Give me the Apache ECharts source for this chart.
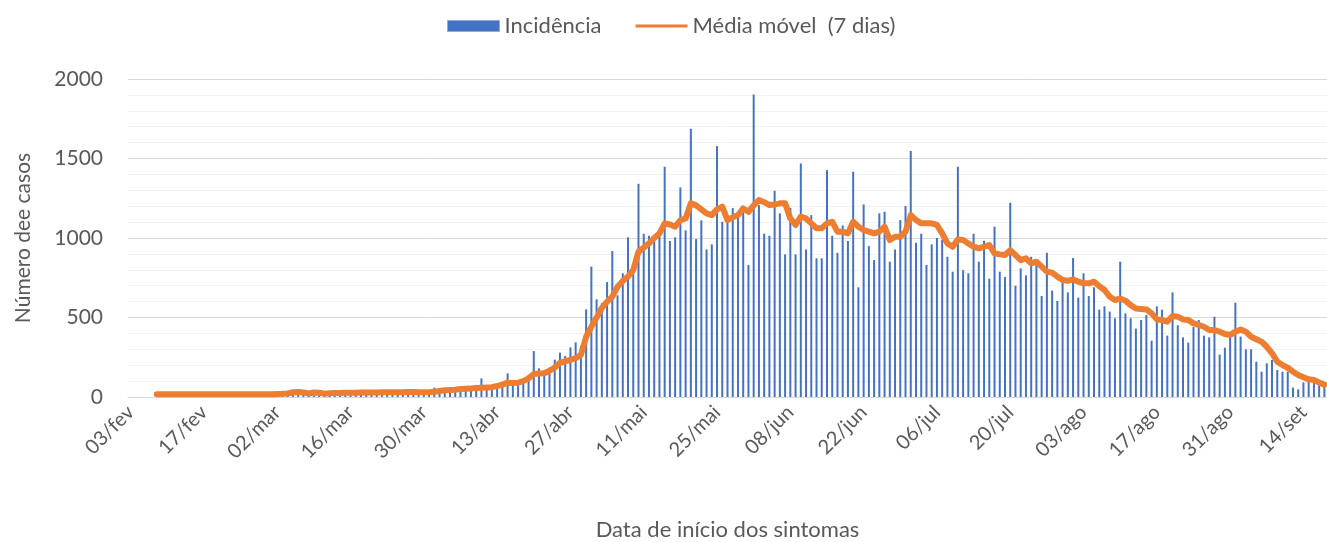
<!DOCTYPE html>
<html>
<head>
	<meta charset="utf-8">
	<title>Incidência diária</title>
	<script src="https://cdn.jsdelivr.net/npm/echarts@6/dist/echarts.min.js"></script>
	<style>
	html, body {
		margin: 0;
		height: 100%;
		background: #ffffff;
	}
	#main {
		width: 1327px;
		height: 542px;
	}
	</style>
</head>
<body>
<div id="main"></div>
<script>
	// eixo x: um dia por categoria, de 03/fev a 18/set
	var monthNames = ['fev', 'mar', 'abr', 'mai', 'jun', 'jul', 'ago', 'set'];
	var monthFirstDay = [3, 1, 1, 1, 1, 1, 1, 1];
	var monthLastDay = [29, 31, 30, 31, 30, 31, 31, 18];

	// casos por dia
	var incidencia = [
		0, 0, 0, 0, 0, 2, 0, 1, 0, 3, 0, 2, 1, 0, 4, 2, 1, 3, 0, 2,
		5, 3, 2, 6, 4, 3, 8, 5, 6, 9, 12, 18, 22, 15, 10, 14, 20, 12, 16, 18,
		20, 15, 22, 25, 18, 24, 28, 22, 26, 30, 24, 28, 32, 27, 30, 25, 30, 40, 59, 45,
		50, 55, 48, 60, 52, 58, 62, 117, 70, 75, 65, 80, 149, 100, 90, 110, 130, 289, 180, 170,
		185, 235, 279, 258, 312, 344, 321, 551, 820, 614, 589, 723, 918, 640, 778, 1004, 790, 1341, 1027, 1014,
		990, 1050, 1448, 981, 1004, 1318, 1048, 1687, 993, 1111, 928, 960, 1578, 1102, 1113, 1188, 1155, 1200, 830, 1903,
		1207, 1027, 1014, 1297, 1155, 897, 1190, 897, 1469, 928, 1144, 872, 872, 1427, 1014, 907, 1079, 981, 1417, 690,
		1211, 949, 861, 1155, 1165, 851, 928, 1113, 1201, 1547, 970, 1027, 830, 960, 1000, 990, 882, 788, 1448, 798,
		778, 1027, 851, 983, 744, 1071, 788, 755, 1222, 700, 809, 765, 882, 830, 635, 907, 669, 604, 723, 658,
		874, 625, 778, 635, 690, 549, 570, 537, 495, 851, 526, 495, 430, 484, 516, 354, 570, 549, 386, 658,
		451, 375, 342, 440, 484, 386, 375, 505, 266, 310, 400, 593, 380, 300, 300, 222, 159, 212, 233, 170,
		159, 159, 59, 48, 92, 96, 107, 75, 70
	];

	// média móvel de 7 dias
	var mediaMovel = [
		null, null, null, null, null, 17, 17, 17, 17, 17, 17, 17, 17, 17, 17, 17, 17, 17, 17, 17,
		17, 17, 17, 17, 17, 17, 18, 18, 19, 20, 22, 30, 31, 29, 22, 28, 27, 21, 24, 25,
		25, 26, 26, 27, 28, 29, 29, 29, 30, 30, 30, 30, 30, 31, 31, 30, 30, 30, 33, 38,
		42, 44, 46, 50, 52, 54, 56, 58, 60, 62, 69, 78, 90, 88, 90, 100, 117, 145, 148, 149,
		165, 185, 215, 225, 233, 245, 264, 379, 442, 500, 560, 600, 631, 694, 730, 757, 799, 914, 940, 966,
		1000, 1029, 1092, 1085, 1071, 1113, 1123, 1218, 1205, 1180, 1155, 1144, 1180, 1197, 1113, 1130, 1144, 1186, 1165, 1205,
		1239, 1225, 1207, 1210, 1218, 1218, 1123, 1082, 1134, 1123, 1092, 1061, 1061, 1092, 1102, 1040, 1040, 1029, 1102, 1071,
		1050, 1040, 1029, 1040, 1071, 987, 1008, 1008, 1040, 1144, 1113, 1092, 1092, 1092, 1082, 1029, 966, 945, 990, 987,
		966, 945, 935, 945, 956, 903, 897, 893, 924, 893, 861, 872, 840, 851, 820, 788, 782, 757, 736, 731,
		740, 725, 715, 715, 725, 698, 673, 631, 610, 620, 606, 578, 557, 554, 551, 526, 488, 484, 474, 509,
		505, 488, 484, 463, 453, 442, 421, 421, 411, 396, 390, 411, 425, 411, 379, 363, 348, 316, 275, 222,
		201, 184, 159, 138, 124, 111, 107, 90, 78
	];

	var datas = [];
	for (var m = 0; m < monthNames.length; m++) {
		for (var d = monthFirstDay[m]; d <= monthLastDay[m]; d++) {
			datas.push((d < 10 ? '0' + d : '' + d) + '/' + monthNames[m]);
		}
	}

	var cinza = '#595959';
	var fonte = 'Lato, "Open Sans", sans-serif';

	var myChart = echarts.init(document.getElementById('main'));

	var option = {
		animation: false,
		textStyle: {
			fontFamily: fonte,
			color: cinza
		},
		legend: {
			top: 10,
			left: 442,
			itemWidth: 52,
			itemHeight: 11,
			itemGap: 34,
			textStyle: {
				fontSize: 22,
				color: cinza,
				fontFamily: fonte
			},
			data: [
				{name: 'Incidência', icon: 'rect', itemStyle: {color: '#4472C4', borderColor: '#8FAADC', borderWidth: 1}},
				{name: 'Média móvel  (7 dias)', icon: 'path://M0,0 L54,0 L54,3 L0,3 Z', itemStyle: {color: '#ED7D31'}}
			]
		},
		grid: {
			left: 128,
			right: 0,
			top: 79,
			bottom: 145,
			containLabel: false,
			outerBoundsMode: 'none'
		},
		xAxis: {
			type: 'category',
			data: datas,
			boundaryGap: true,
			name: 'Data de início dos sintomas',
			nameLocation: 'middle',
			nameGap: 122,
			nameTextStyle: {
				fontSize: 22,
				color: cinza
			},
			axisLine: {
				lineStyle: {color: '#d9d9d9', width: 1}
			},
			axisTick: {
				interval: 13,
				length: 6,
				lineStyle: {color: '#d9d9d9'}
			},
			axisLabel: {
				interval: 13,
				rotate: 45,
				margin: 12,
				fontSize: 20,
				color: cinza
			}
		},
		yAxis: {
			type: 'value',
			min: 0,
			max: 2000,
			interval: 500,
			name: 'Número dee casos',
			nameLocation: 'middle',
			nameGap: 94,
			nameTextStyle: {
				fontSize: 21,
				color: cinza
			},
			axisLine: {show: false},
			axisTick: {show: false},
			axisLabel: {
				margin: 25,
				fontSize: 21,
				color: cinza,
				formatter: function (v) { return String(v); }
			},
			splitLine: {
				lineStyle: {color: '#d9d9d9', width: 1}
			},
			minorTick: {
				show: false,
				splitNumber: 5
			},
			minorSplitLine: {
				show: true,
				lineStyle: {color: '#f2f2f2', width: 1}
			}
		},
		series: [{
			name: 'Incidência',
			type: 'bar',
			data: incidencia,
			barWidth: 2,
			itemStyle: {color: '#4472C4'}
		}, {
			name: 'Média móvel  (7 dias)',
			type: 'line',
			data: mediaMovel,
			showSymbol: false,
			symbol: 'none',
			smooth: false,
			lineStyle: {color: '#ED7D31', width: 6, cap: 'round', join: 'round'},
			itemStyle: {color: '#ED7D31'}
		}]
	};
	myChart.setOption(option);
</script>
</body>
</html>
